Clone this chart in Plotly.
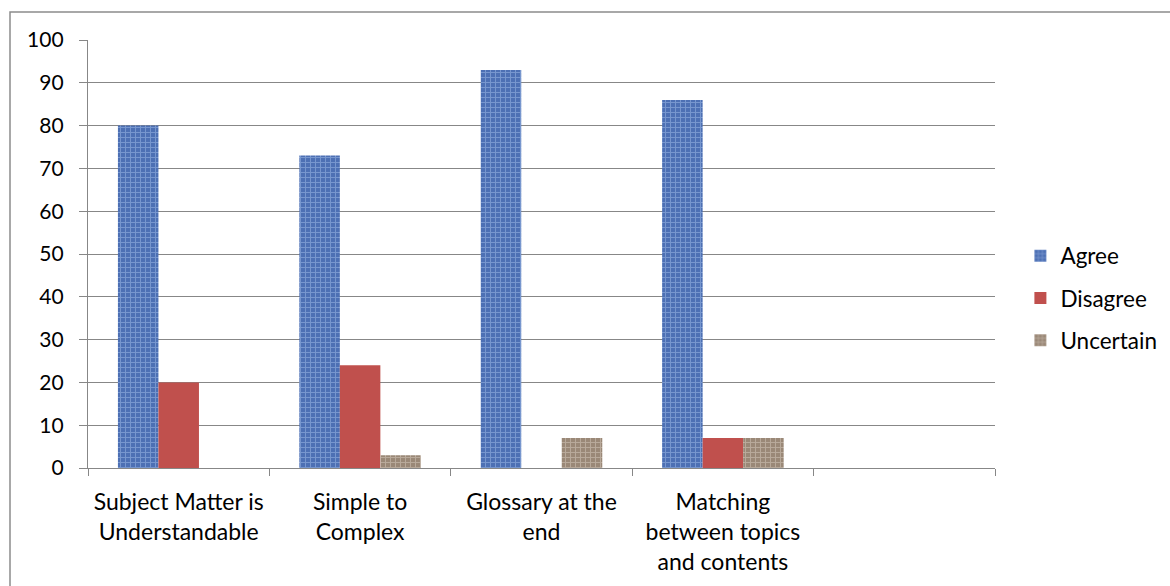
import plotly.graph_objects as go

# Survey responses (%) per statement
categories = ["Subject Matter is<br>Understandable", "Simple to<br>Complex",
              "Glossary at the<br>end", "Matching<br>between topics<br>and contents"]
axis_slots = categories + [" "]
agree = [80, 73, 93, 86]
disagree = [20, 24, 0, 7]
uncertain = [0, 3, 7, 7]
y_ticks = list(range(0, 101, 10))

FONT = "Lato, 'Open Sans', sans-serif"
GRID = "#878787"

fig = go.Figure()
fig.add_trace(go.Bar(
    name="Agree", x=categories, y=agree, legendgroup="a",
    marker=dict(color="#4f73b8", line=dict(width=0),
                pattern=dict(shape="+", fillmode="overlay", bgcolor="#4d70b4",
                             fgcolor="#a2bdea", size=5, solidity=0.35)),
))
fig.add_trace(go.Bar(
    name="Disagree", x=categories, y=disagree, legendgroup="d",
    marker=dict(color="#c0504d", line=dict(width=0)),
))
fig.add_trace(go.Bar(
    name="Uncertain", x=categories, y=uncertain, legendgroup="u",
    marker=dict(color="#a89a8b", line=dict(width=0),
                pattern=dict(shape="+", fillmode="overlay", bgcolor="#9a8877",
                             fgcolor="#d8ccbf", size=5, solidity=0.35)),
))

fig.update_layout(
    width=1170, height=586, autosize=False,
    margin=dict(l=88, r=175, t=40, b=118, autoexpand=False),
    paper_bgcolor="white", plot_bgcolor="white",
    font=dict(family=FONT, size=21, color="#000000"),
    barmode="group", bargap=0.33, bargroupgap=0,
    showlegend=True,
    legend=dict(x=1.028, xanchor="left", y=0.397, yanchor="middle",
                font=dict(family=FONT, size=22.5, color="#000000"),
                tracegroupgap=10, itemwidth=30, bgcolor="rgba(0,0,0,0)"),
    xaxis=dict(type="category", categoryorder="array", categoryarray=axis_slots,
               range=[-0.5, 4.5], showgrid=False, tickson="boundaries",
               ticks="outside", ticklen=7, tickcolor=GRID, tickwidth=1.3,
               showline=True, linecolor=GRID, linewidth=1.3,
               tickfont=dict(family=FONT, size=23, color="#000000"),
               ticklabelstandoff=13, zeroline=False, fixedrange=True),
    yaxis=dict(range=[0, 100], tickvals=y_ticks, showgrid=True, gridcolor=GRID,
               gridwidth=1.3, ticks="outside", ticklen=8, tickcolor=GRID,
               tickwidth=1.3, showline=True, linecolor=GRID, linewidth=1.3,
               zeroline=False, tickfont=dict(family=FONT, size=21, color="#000000"),
               ticklabelstandoff=11, fixedrange=True),
    shapes=[dict(type="rect", xref="paper", yref="paper",
                 x0=(10 - 88) / 907, x1=1.5, y0=-1.0, y1=(468 - 12) / 428,
                 line=dict(color="#8c8c8c", width=1.5), fillcolor="rgba(0,0,0,0)",
                 layer="below")],
)

fig.write_html("out.html")
